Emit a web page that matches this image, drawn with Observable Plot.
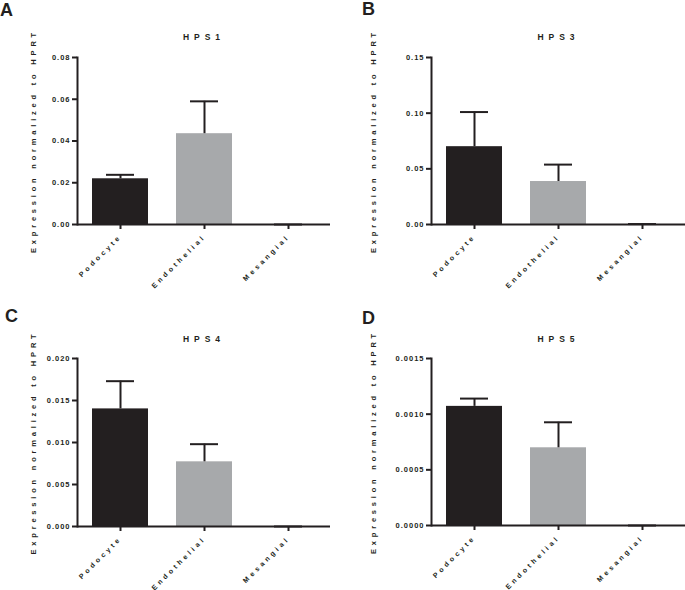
<!DOCTYPE html>
<html>
<head>
<meta charset="utf-8">
<script src="https://cdn.jsdelivr.net/npm/d3@7"></script>
<script src="https://cdn.jsdelivr.net/npm/@observablehq/plot@0.6"></script>
<style>
  html, body { margin: 0; padding: 0; background: #fff; }
  #root { position: relative; width: 685px; height: 590px; overflow: hidden; font-family: "Liberation Sans", Arial, sans-serif; }
  .panel { position: absolute; }
  .panel svg { overflow: visible; }
  .letter { position: absolute; font-family: "Liberation Sans", Arial, sans-serif; font-weight: bold; font-size: 18px; line-height: 18px; color: #231f20; }
  svg [aria-label="y-axis label"] text { letter-spacing: 3.8px; }
  svg [aria-label="x-axis tick label"] text { letter-spacing: 3.2px; }
  svg [aria-label="y-axis tick label"] text { letter-spacing: 1px; }
  svg .ttl text { letter-spacing: 5px; }
</style>
</head>
<body>
<div id="root"></div>
<script>
// ---- data ----
const categories = ["Podocyte", "Endothelial", "Mesangial"];
const panelLetters = ["A", "B", "C", "D"];
const titles = ["HPS1", "HPS3", "HPS4", "HPS5"];
const yLabel = "Expression normalized to HPRT";

const hps1Mean = [0.0219, 0.0435, 0];
const hps1Upper = [0.0238, 0.0590, 0];
const hps3Mean = [0.0699, 0.0386, 0];
const hps3Upper = [0.1010, 0.0538, 0.0004];
const hps4Mean = [0.0140, 0.0077, 0];
const hps4Upper = [0.0173, 0.0098, 0];
const hps5Mean = [0.00107, 0.000698, 0];
const hps5Upper = [0.00114, 0.000927, 0];

const yMaxes = [0.08, 0.15, 0.02, 0.0015];
const yTicks = [
  [0, 0.02, 0.04, 0.06, 0.08],
  [0, 0.05, 0.10, 0.15],
  [0, 0.005, 0.010, 0.015, 0.020],
  [0, 0.0005, 0.0010, 0.0015]
];
const yFormats = [".2f", ".2f", ".3f", ".4f"];

const means = [hps1Mean, hps3Mean, hps4Mean, hps5Mean];
const uppers = [hps1Upper, hps3Upper, hps4Upper, hps5Upper];

// ---- layout ----
const dark = "#231f20";
const gray = "#a7a9ab";
const layout = [
  {left: 0,   top: 0,   width: 340, height: 290, ml: 77, mr: 10, mt: 57, mb: 66, lx: 0,   ly: 1},
  {left: 340, top: 0,   width: 345, height: 290, ml: 91, mr: 0,  mt: 57, mb: 66, lx: 362, ly: 0},
  {left: 0,   top: 290, width: 340, height: 300, ml: 77, mr: 10, mt: 68, mb: 64, lx: 5,   ly: 307},
  {left: 340, top: 290, width: 345, height: 300, ml: 91, mr: 0,  mt: 68, mb: 65, lx: 362, ly: 309}
];

const root = document.getElementById("root");

panelLetters.forEach((letter, i) => {
  const L = layout[i];
  const rows = categories.map((c, j) => ({category: c, mean: means[i][j], upper: uppers[i][j]}));
  const chart = Plot.plot({
    width: L.width,
    height: L.height,
    marginLeft: L.ml,
    marginRight: L.mr,
    marginTop: L.mt,
    marginBottom: L.mb,
    style: {fontFamily: "'Liberation Sans', Arial, sans-serif", fontWeight: "bold", color: dark, background: "transparent", overflow: "visible"},
    x: {domain: categories, paddingInner: 0.335, paddingOuter: 0.1675},
    y: {domain: [0, yMaxes[i]]},
    color: {domain: categories, range: [dark, gray, dark]},
    marks: [
      Plot.barY(rows, {x: "category", y: "mean", fill: "category"}),
      Plot.ruleX(rows, {x: "category", y1: "mean", y2: "upper", stroke: dark, strokeWidth: 2}),
      Plot.tickY(rows, {x: "category", y: "upper", stroke: dark, strokeWidth: 2, insetLeft: 14, insetRight: 14}),
      Plot.ruleY([0], {stroke: dark, strokeWidth: 2}),
      Plot.frame({anchor: "left", stroke: dark, strokeWidth: 2}),
      Plot.axisY({
        ticks: yTicks[i], tickFormat: d3.format(yFormats[i]), tickSize: 5, tickPadding: 2,
        strokeWidth: 2, stroke: dark, fontSize: 7.5, fill: dark,
        label: yLabel, labelAnchor: "center", labelArrow: "none", labelOffset: L.ml - 30
      }),
      Plot.axisX({
        tickSize: 5, tickPadding: 6, tickRotate: -45, strokeWidth: 2, stroke: dark,
        fontSize: 7, fill: dark, label: null
      }),
      Plot.text([titles[i]], {
        frameAnchor: "top", dy: -(L.mt - (i < 2 ? 33 : 45)), fontSize: 8.5, fontWeight: "bold",
        fill: dark, className: "ttl"
      })
    ]
  });
  const wrap = document.createElement("div");
  wrap.className = "panel";
  wrap.style.left = L.left + "px";
  wrap.style.top = L.top + "px";
  wrap.appendChild(chart);
  root.appendChild(wrap);

  const lt = document.createElement("div");
  lt.className = "letter";
  lt.style.left = L.lx + "px";
  lt.style.top = L.ly + "px";
  lt.textContent = letter;
  root.appendChild(lt);
});
</script>
</body>
</html>
